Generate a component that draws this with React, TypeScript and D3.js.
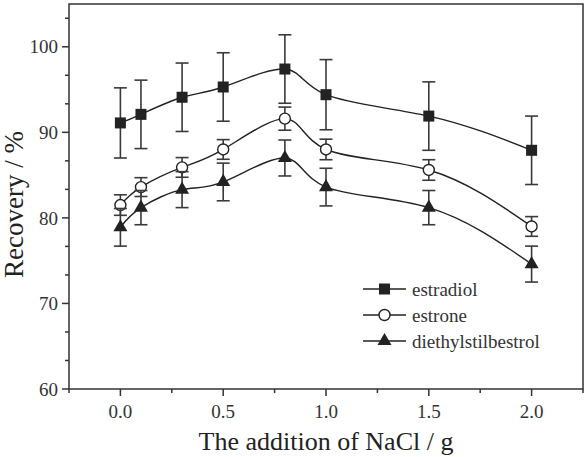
import React from "react";
import * as d3 from "d3";

const xValues = [0, 0.1, 0.3, 0.5, 0.8, 1.0, 1.5, 2.0];
const estradiol = [91.1, 92.1, 94.1, 95.3, 97.4, 94.4, 91.9, 87.9];
const estradiolErr = [4.1, 4.0, 4.0, 4.0, 4.0, 4.1, 4.0, 4.0];
const estrone = [81.5, 83.6, 85.9, 88.0, 91.6, 88.0, 85.6, 79.0];
const estroneErr = [1.2, 1.1, 1.15, 1.15, 1.35, 1.2, 1.2, 1.15];
const diethylstilbestrol = [78.9, 81.2, 83.3, 84.2, 87.0, 83.6, 81.2, 74.6];
const diethylstilbestrolErr = [2.2, 2.0, 2.1, 2.2, 2.1, 2.2, 2.0, 2.1];
const seriesNames = ["estradiol", "estrone", "diethylstilbestrol"];
const xTicks = [0, 0.5, 1.0, 1.5, 2.0];
const xMinorTicks = [-0.25, 0.25, 0.75, 1.25, 1.75, 2.25];
const yTicks = [60, 70, 80, 90, 100];
const xLabel = "The addition of NaCl / g";
const yLabel = "Recovery / %";

const W = 588;
const H = 457;
const left = 69, right = 583, top = 4, bottom = 389;
const font = "'Liberation Serif', 'DejaVu Serif', 'Times New Roman', serif";

type Sym = "square" | "circle" | "triangle";

function Marker({ x, y, sym }: { x: number; y: number; sym: Sym }) {
  if (sym === "square") {
    return <rect x={x - 5.5} y={y - 5.5} width={11} height={11} fill="#222" />;
  }
  if (sym === "circle") {
    return <circle cx={x} cy={y} r={5.5} fill="#fff" stroke="#222" strokeWidth={1.4} />;
  }
  const p = d3.symbol().type(d3.symbolTriangle).size(85)();
  return <path d={p as string} transform={`translate(${x},${y})`} fill="#222" />;
}

export default function App() {
  const x = d3.scaleLinear().domain([-0.25, 2.25]).range([left, right]);
  const y = d3.scaleLinear().domain([60, 105]).range([bottom, top]);
  const yMinor = d3.range(60, 105.01, 10 / 3).filter((v) => yTicks.every((t) => Math.abs(t - v) > 0.01));

  const series = [
    { name: seriesNames[0], vals: estradiol, err: estradiolErr, sym: "square" as Sym },
    { name: seriesNames[1], vals: estrone, err: estroneErr, sym: "circle" as Sym },
    { name: seriesNames[2], vals: diethylstilbestrol, err: diethylstilbestrolErr, sym: "triangle" as Sym },
  ];

  const line = d3
    .line<[number, number]>()
    .x((d) => x(d[0]))
    .y((d) => y(d[1]))
    .curve(d3.curveNatural);

  const cap = 6.5;

  return (
    <svg
      width={W}
      height={H}
      style={{ position: "absolute", left: 0, top: 0, background: "#fff", fontFamily: font }}
      fontFamily={font}
    >
      <rect x={0} y={0} width={W} height={H} fill="#fff" />
      {series.map((s) => (
        <g key={s.name}>
          <path
            d={line(xValues.map((xv, i) => [xv, s.vals[i]] as [number, number])) as string}
            fill="none"
            stroke="#222"
            strokeWidth={1.4}
          />
          {xValues.map((xv, i) => {
            const cx = x(xv);
            const y1 = y(s.vals[i] + s.err[i]);
            const y2 = y(s.vals[i] - s.err[i]);
            return (
              <g key={i} stroke="#3a3a3a" strokeWidth={1.6}>
                <line x1={cx} x2={cx} y1={y1} y2={y2} />
                <line x1={cx - cap} x2={cx + cap} y1={y1} y2={y1} />
                <line x1={cx - cap} x2={cx + cap} y1={y2} y2={y2} />
              </g>
            );
          })}
          {xValues.map((xv, i) => (
            <Marker key={"m" + i} x={x(xv)} y={y(s.vals[i])} sym={s.sym} />
          ))}
        </g>
      ))}

      <rect x={left} y={top} width={right - left} height={bottom - top} fill="none" stroke="#333" strokeWidth={1.5} />

      {yTicks.map((t) => (
        <g key={"y" + t}>
          <line x1={left - 7} x2={left} y1={y(t)} y2={y(t)} stroke="#333" strokeWidth={1.5} />
          <text x={left - 11} y={y(t)} dy="0.35em" textAnchor="end" fontSize={19} fill="#333">
            {t}
          </text>
        </g>
      ))}
      {yMinor.map((t, i) => (
        <line key={"ym" + i} x1={left - 4} x2={left} y1={y(t)} y2={y(t)} stroke="#333" strokeWidth={1.5} />
      ))}

      {xTicks.map((t) => (
        <g key={"x" + t}>
          <line x1={x(t)} x2={x(t)} y1={bottom} y2={bottom + 7} stroke="#333" strokeWidth={1.5} />
          <text x={x(t)} y={418} textAnchor="middle" fontSize={19} fill="#333">
            {d3.format(".1f")(t)}
          </text>
        </g>
      ))}
      {xMinorTicks.map((t, i) => (
        <line key={"xm" + i} x1={x(t)} x2={x(t)} y1={bottom} y2={bottom + 4} stroke="#333" strokeWidth={1.5} />
      ))}

      <text x={(left + right) / 2} y={450} textAnchor="middle" fontSize={26} fill="#222">
        {xLabel}
      </text>
      <text
        transform={`translate(23,${(top + bottom) / 2 + 8}) rotate(-90)`}
        textAnchor="middle"
        fontSize={27}
        fill="#222"
      >
        {yLabel}
      </text>

      {series.map((s, i) => {
        const ly = 289 + i * 26;
        return (
          <g key={"lg" + s.name}>
            <line x1={363} x2={406} y1={ly} y2={ly} stroke="#222" strokeWidth={1.4} />
            <Marker x={384.5} y={ly} sym={s.sym} />
            <text x={412} y={ly} dy="0.35em" fontSize={19} fill="#333">
              {s.name}
            </text>
          </g>
        );
      })}
    </svg>
  );
}
